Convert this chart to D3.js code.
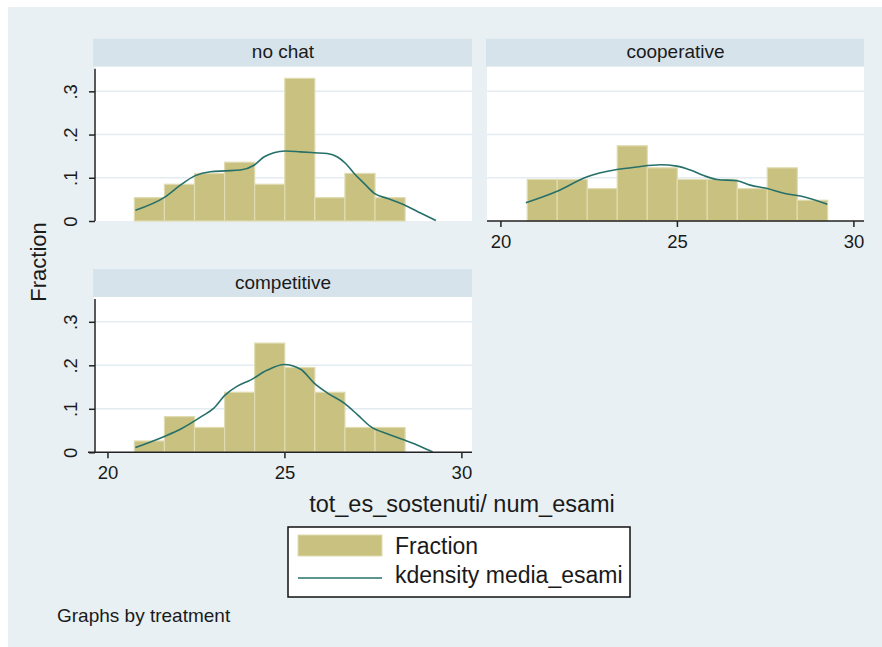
<!DOCTYPE html>
<html>
<head>
<meta charset="utf-8">
<script src="https://cdn.jsdelivr.net/npm/d3@7"></script>
<style>
  body { margin: 0; background: #fff; }
  text { font-family: "Liberation Sans", Arial, sans-serif; fill: #1a1a1a; }
</style>
</head>
<body>
<svg id="chart" width="882" height="647"></svg>
<script>
// data
var binEdges = [20.76, 21.61, 22.46, 23.31, 24.16, 25.01, 25.86, 26.71, 27.56, 28.41, 29.27];
var treatments = ["no chat", "cooperative", "competitive"];
var fracNoChat = [0.054, 0.085, 0.110, 0.136, 0.085, 0.330, 0.054, 0.110, 0.054];
var fracCoop = [0.096, 0.096, 0.075, 0.174, 0.123, 0.096, 0.096, 0.075, 0.123, 0.048];
var fracComp = [0.026, 0.082, 0.057, 0.138, 0.251, 0.195, 0.138, 0.057, 0.057];

var kdNoChat = [[20.79,0.025],[21.63,0.056],[22.06,0.083],[22.48,0.105],[22.91,0.114],[23.33,0.116],
  [23.76,0.118],[24.14,0.129],[24.42,0.148],[24.70,0.158],[25.03,0.162],[25.46,0.160],[25.84,0.158],
  [26.21,0.156],[26.50,0.148],[26.73,0.133],[26.97,0.110],[27.25,0.087],[27.54,0.064],[27.92,0.052],
  [28.39,0.037],[28.86,0.018],[29.28,0.001]];
var kdCoop = [[20.72,0.042],[21.59,0.068],[22.44,0.102],[23.30,0.119],[23.86,0.125],[24.53,0.130],
  [25.00,0.127],[25.38,0.118],[25.76,0.105],[26.14,0.096],[26.70,0.093],[27.08,0.083],[27.56,0.075],
  [28.03,0.064],[28.50,0.058],[29.26,0.039]];
var kdComp = [[20.79,0.011],[21.59,0.036],[22.06,0.053],[22.67,0.083],[23.00,0.101],[23.33,0.132],
  [23.67,0.152],[24.04,0.166],[24.52,0.189],[24.99,0.202],[25.46,0.191],[25.84,0.159],[26.22,0.136],
  [26.69,0.113],[27.07,0.086],[27.44,0.059],[27.92,0.042],[28.39,0.028],[28.86,0.013],[29.19,0.001]];

var xTicks = [20, 25, 30];
var yTicks = [0, 0.1, 0.2, 0.3];
var yTickLabels = ["0", ".1", ".2", ".3"];

var barFill = "#c9c180", barEdge = "#e0dbb0", lineColor = "#26706a";

var svg = d3.select("#chart");

// outer background
svg.append("rect").attr("x", 8).attr("y", 7).attr("width", 874).attr("height", 640)
  .attr("fill", "#e8f0f3");

var panels = [
  {name: treatments[0], frac: fracNoChat, kd: kdNoChat, x0: 94, x1: 472, y0: 66.7, y1: 221, yaxis: true, xaxis: false},
  {name: treatments[1], frac: fracCoop, kd: kdCoop, x0: 487, x1: 864, y0: 66.7, y1: 221, yaxis: false, xaxis: true},
  {name: treatments[2], frac: fracComp, kd: kdComp, x0: 94, x1: 472, y0: 297, y1: 452.3, yaxis: true, xaxis: true}
];

panels.forEach(function(p) {
  var x = d3.scaleLinear().domain([19.62, 30.3]).range([p.x0, p.x1]);
  var y = d3.scaleLinear().domain([0, 0.357]).range([p.y1, p.y0]);
  var g = svg.append("g");

  // header strip
  g.append("rect").attr("x", p.x0 - 1).attr("y", p.y0 - 28).attr("width", p.x1 - p.x0 + 1).attr("height", 28)
    .attr("fill", "#d6e3ea");
  g.append("text").attr("x", (p.x0 + p.x1) / 2).attr("y", p.y0 - 8.5)
    .attr("text-anchor", "middle").style("font-size", "19px").text(p.name);

  // plot region
  g.append("rect").attr("x", p.x0).attr("y", p.y0).attr("width", p.x1 - p.x0).attr("height", p.y1 - p.y0)
    .attr("fill", "#fff");

  // gridlines
  g.selectAll("line.grid").data(yTicks.slice(1)).enter().append("line")
    .attr("class", "grid")
    .attr("x1", p.x0).attr("x2", p.x1)
    .attr("y1", function(d) { return y(d); }).attr("y2", function(d) { return y(d); })
    .attr("stroke", "#e3ecf0").attr("stroke-width", 1.5);

  // bars
  g.selectAll("rect.bar").data(p.frac).enter().append("rect")
    .attr("class", "bar")
    .attr("x", function(d, i) { return x(binEdges[i]); })
    .attr("width", function(d, i) { return x(binEdges[i + 1]) - x(binEdges[i]); })
    .attr("y", function(d) { return y(d); })
    .attr("height", function(d) { return y(0) - y(d); })
    .attr("fill", barFill).attr("stroke", barEdge).attr("stroke-width", 1.2);

  // kdensity
  var line = d3.line()
    .x(function(d) { return x(d[0]); })
    .y(function(d) { return y(d[1]); })
    .curve(d3.curveMonotoneX);
  g.append("path").attr("d", line(p.kd))
    .attr("fill", "none").attr("stroke", lineColor).attr("stroke-width", 1.6);

  if (p.yaxis) {
    var ya = g.append("g").attr("transform", "translate(" + (p.x0 + 1) + ",0)")
      .call(d3.axisLeft(y).tickValues(yTicks).tickSize(6).tickFormat(function(d, i) { return yTickLabels[i]; }));
    ya.select(".domain").attr("stroke", "#222").attr("stroke-width", 1.5)
      .attr("d", "M0," + (p.y0 + 2) + "V" + p.y1);
    ya.selectAll(".tick line").attr("stroke", "#222").attr("stroke-width", 1.5);
    ya.selectAll(".tick text")
      .attr("x", null).attr("dy", null)
      .attr("transform", "translate(-18,0) rotate(-90)")
      .attr("text-anchor", "middle")
      .style("font-size", "18.5px").style("font-family", "Liberation Sans, Arial, sans-serif")
      .attr("fill", "#1a1a1a");
  }

  if (p.xaxis) {
    var xa = g.append("g").attr("transform", "translate(0," + p.y1 + ")")
      .call(d3.axisBottom(x).tickValues(xTicks).tickSize(6));
    xa.select(".domain").attr("stroke", "#222").attr("stroke-width", 1.5)
      .attr("d", "M" + (p.yaxis ? p.x0 - 6 : p.x0) + ",0H" + p.x1);
    xa.selectAll(".tick line").attr("stroke", "#222").attr("stroke-width", 1.5);
    xa.selectAll(".tick text").attr("y", 14).attr("dy", "0.71em")
      .style("font-size", "18.5px").style("font-family", "Liberation Sans, Arial, sans-serif")
      .attr("fill", "#1a1a1a");
  }
});

// axis titles
svg.append("text").attr("transform", "translate(46,262) rotate(-90)")
  .attr("text-anchor", "middle").style("font-size", "22px").text("Fraction");
svg.append("text").attr("x", 462).attr("y", 512)
  .attr("text-anchor", "middle").style("font-size", "23.5px").text("tot_es_sostenuti/ num_esami");

// legend
var leg = svg.append("g");
leg.append("rect").attr("x", 288).attr("y", 527).attr("width", 342).attr("height", 70)
  .attr("fill", "#fff").attr("stroke", "#111").attr("stroke-width", 1.5);
leg.append("rect").attr("x", 298).attr("y", 535).attr("width", 84).attr("height", 21)
  .attr("fill", barFill).attr("stroke", barEdge).attr("stroke-width", 1);
leg.append("line").attr("x1", 298).attr("x2", 382).attr("y1", 578).attr("y2", 578)
  .attr("stroke", lineColor).attr("stroke-width", 1.6);
leg.append("text").attr("x", 395).attr("y", 554).style("font-size", "23px").text("Fraction");
leg.append("text").attr("x", 395).attr("y", 583).style("font-size", "23px").text("kdensity media_esami");

// note
svg.append("text").attr("x", 57).attr("y", 622).style("font-size", "19px").text("Graphs by treatment");
</script>
</body>
</html>
